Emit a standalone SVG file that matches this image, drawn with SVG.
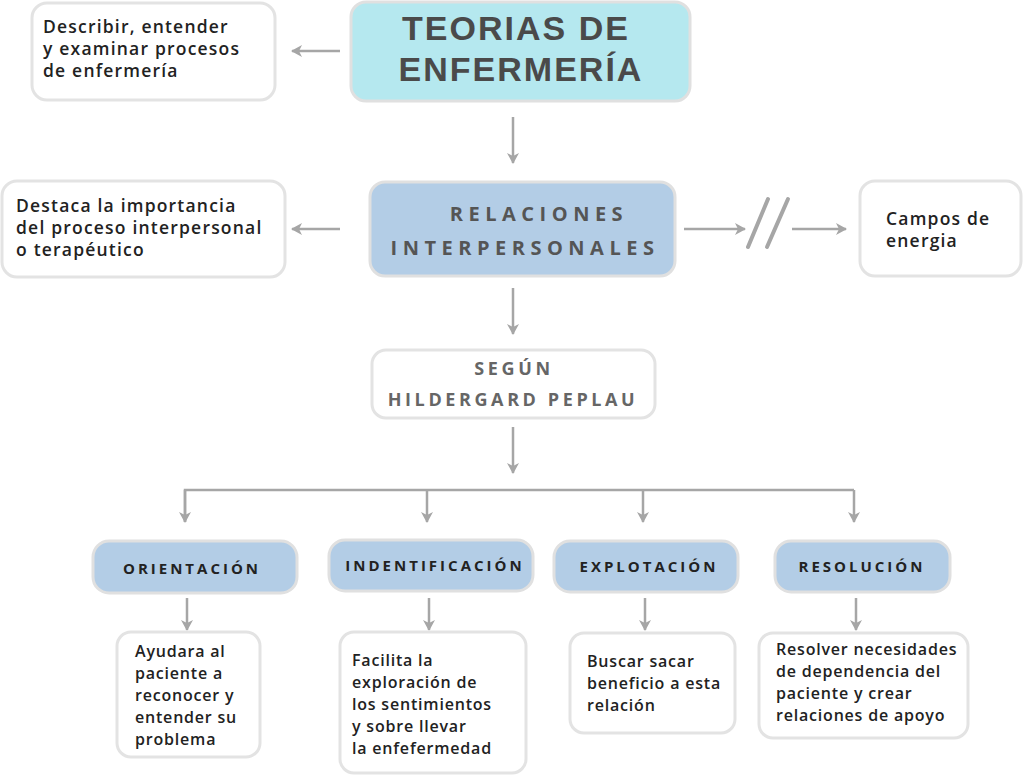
<svg xmlns="http://www.w3.org/2000/svg" width="1024" height="776" viewBox="0 0 1024 776">
<defs>
<marker id="ah" viewBox="0 0 12 12" refX="10" refY="6" markerWidth="12" markerHeight="12" markerUnits="userSpaceOnUse" orient="auto">
<path d="M0,0 L11,6 L0,12 L3,6 Z" fill="#a6a6a6"/>
</marker>
</defs>
<style>
.box{fill:#ffffff;stroke:#e3e3e3;stroke-width:3}
.blue{fill:#b3cde6;stroke:#e0e0e0;stroke-width:3}
.cyan{fill:#b5e8ef;stroke:#e0e0e0;stroke-width:3}
.c{fill:none;stroke:#a6a6a6;stroke-width:2.5}
.ca{fill:none;stroke:#a6a6a6;stroke-width:2.5;marker-end:url(#ah)}
.t{font-family:"Open Sans","Liberation Sans",sans-serif;font-weight:600;font-size:16px;fill:#222;letter-spacing:0.8px}
.tl{font-family:"Open Sans","Liberation Sans",sans-serif;font-weight:600;font-size:17.5px;fill:#222;letter-spacing:1.2px}
.title{font-family:"Liberation Sans",Arial,sans-serif;font-weight:700;font-size:34px;fill:#4a4a4a;letter-spacing:2px;text-anchor:middle}
.h2{font-family:"Open Sans","Liberation Sans",sans-serif;font-weight:700;font-size:20px;fill:#555;letter-spacing:5.5px;text-anchor:middle}
.h3{font-family:"Open Sans","Liberation Sans",sans-serif;font-weight:700;font-size:18px;fill:#666;letter-spacing:3.6px;text-anchor:middle}
.ph{font-family:"Open Sans","Liberation Sans",sans-serif;font-weight:700;font-size:15px;fill:#222;letter-spacing:3px;text-anchor:middle}
</style>
<rect width="1024" height="776" fill="#ffffff"/>
<g id="connectors">
<line class="ca" x1="340" y1="51" x2="292" y2="51"/>
<line class="ca" x1="513" y1="117" x2="513" y2="163"/>
<line class="ca" x1="340" y1="229" x2="292" y2="229"/>
<line class="ca" x1="684" y1="229" x2="745" y2="229"/>
<line x1="748" y1="247" x2="768" y2="199" stroke="#a6a6a6" stroke-width="4" stroke-linecap="round"/>
<line x1="767" y1="247" x2="788" y2="199" stroke="#a6a6a6" stroke-width="4" stroke-linecap="round"/>
<line class="ca" x1="792" y1="229" x2="846" y2="229"/>
<line class="ca" x1="513" y1="288" x2="513" y2="334"/>
<line class="ca" x1="513" y1="427" x2="513" y2="473"/>
<polyline class="c" points="185,522 185,490 854,490"/>
<line class="ca" x1="185" y1="490" x2="185" y2="522"/>
<line class="ca" x1="427" y1="490" x2="427" y2="522"/>
<line class="ca" x1="643" y1="490" x2="643" y2="522"/>
<line class="ca" x1="854" y1="490" x2="854" y2="522"/>
<line class="ca" x1="187" y1="598" x2="187" y2="630"/>
<line class="ca" x1="429" y1="598" x2="429" y2="630"/>
<line class="ca" x1="645" y1="598" x2="645" y2="630"/>
<line class="ca" x1="856" y1="598" x2="856" y2="630"/>
</g>
<g id="n-describir">
<rect class="box" x="32" y="3" width="243" height="97" rx="15"/>
<text class="tl" x="43" y="33">Describir, entender</text>
<text class="tl" x="43" y="55">y examinar procesos</text>
<text class="tl" x="43" y="77">de enfermería</text>
</g>
<g id="n-teorias">
<rect class="cyan" x="351" y="2" width="339" height="99" rx="15"/>
<text class="title" x="516" y="40">TEORIAS DE</text>
<text class="title" x="521" y="81">ENFERMERÍA</text>
</g>
<g id="n-destaca">
<rect class="box" x="2" y="181" width="283" height="96" rx="15"/>
<text class="tl" x="16" y="212">Destaca la importancia</text>
<text class="tl" x="16" y="234">del proceso interpersonal</text>
<text class="tl" x="16" y="256">o terapéutico</text>
</g>
<g id="n-relaciones">
<rect class="blue" x="370" y="182" width="305" height="94" rx="15"/>
<text class="h2" x="539" y="221">RELACIONES</text>
<text class="h2" x="525" y="255">INTERPERSONALES</text>
</g>
<g id="n-campos">
<rect class="box" x="860" y="181" width="161" height="95" rx="15"/>
<text class="tl" x="886" y="225">Campos de</text>
<text class="tl" x="886" y="247">energia</text>
</g>
<g id="n-segun">
<rect class="box" x="372" y="350" width="283" height="68" rx="14"/>
<text class="h3" x="514" y="375">SEGÚN</text>
<text class="h3" x="513" y="406">HILDERGARD PEPLAU</text>
</g>
<g id="n-orientacion">
<rect class="blue" x="93" y="541" width="204" height="52" rx="16"/>
<text class="ph" x="192" y="574">ORIENTACIÓN</text>
</g>
<g id="n-identificacion">
<rect class="blue" x="329" y="540" width="204" height="51" rx="16"/>
<text class="ph" x="435" y="571">INDENTIFICACIÓN</text>
</g>
<g id="n-explotacion">
<rect class="blue" x="554" y="541" width="184" height="51" rx="16"/>
<text class="ph" x="649" y="572">EXPLOTACIÓN</text>
</g>
<g id="n-resolucion">
<rect class="blue" x="775" y="541" width="175" height="51" rx="16"/>
<text class="ph" x="862" y="572">RESOLUCIÓN</text>
</g>
<g id="n-ayudara">
<rect class="box" x="117" y="632" width="143" height="125" rx="14"/>
<text class="t" x="135" y="657">Ayudara al</text>
<text class="t" x="135" y="679">paciente a</text>
<text class="t" x="135" y="701">reconocer y</text>
<text class="t" x="135" y="723">entender su</text>
<text class="t" x="135" y="745">problema</text>
</g>
<g id="n-facilita">
<rect class="box" x="340" y="632" width="186" height="141" rx="14"/>
<text class="t" x="352" y="666">Facilita la</text>
<text class="t" x="352" y="688">exploración de</text>
<text class="t" x="352" y="710">los sentimientos</text>
<text class="t" x="352" y="732">y sobre llevar</text>
<text class="t" x="352" y="754">la enfefermedad</text>
</g>
<g id="n-buscar">
<rect class="box" x="570" y="633" width="165" height="100" rx="14"/>
<text class="t" x="587" y="667">Buscar sacar</text>
<text class="t" x="587" y="689">beneficio a esta</text>
<text class="t" x="587" y="711">relación</text>
</g>
<g id="n-resolver">
<rect class="box" x="759" y="633" width="209" height="105" rx="14"/>
<text class="t" x="776" y="655">Resolver necesidades</text>
<text class="t" x="776" y="677">de dependencia del</text>
<text class="t" x="776" y="699">paciente y crear</text>
<text class="t" x="776" y="721">relaciones de apoyo</text>
</g>
</svg>
